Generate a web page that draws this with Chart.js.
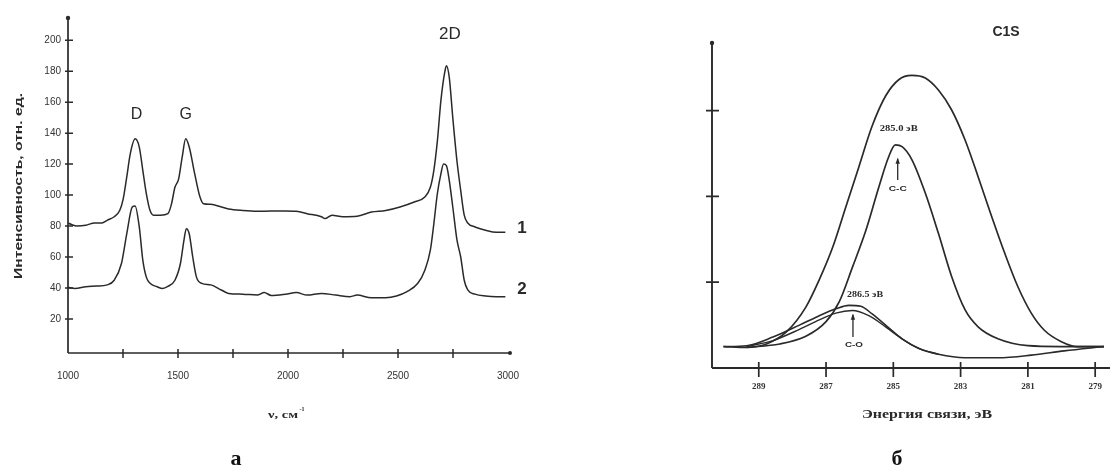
<!DOCTYPE html>
<html><head><meta charset="utf-8">
<script src="https://cdn.jsdelivr.net/npm/chart.js@4.4.1/dist/chart.umd.min.js"></script>
<style>
html,body{margin:0;padding:0;background:#fff;}
#wrap{position:relative;width:1115px;height:473px;overflow:hidden;background:#fff;}
#ca{position:absolute;left:0;top:0;}
#cb{position:absolute;left:560px;top:0;}
</style></head><body>
<div id="wrap">
<canvas id="ca" width="560" height="473"></canvas>
<canvas id="cb" width="555" height="473"></canvas>
</div>
<script>
// ---------- Panel a: Raman spectra ----------
const ramanX1 = [1000,1016,1040,1081,1121,1154,1178,1210,1235,1251,1267,1283,1305,1324,1340,1356,1373,1389,1421,1454,1470,1486,1503,1519,1535,1551,1576,1600,1616,1649,1697,1730,1795,1860,1924,1989,2038,2087,2152,2168,2200,2249,2314,2379,2444,2509,2574,2622,2647,2663,2679,2695,2712,2720,2733,2749,2768,2785,2801,2817,2850,2898,2947,2988];
const ramanY1 = [82,81,80,80.5,82,82,83.7,86,90,97.6,111.6,126.6,136.3,131,116,101,90,87,87,88,94,105,110.5,124.5,136.3,131,113.7,98.7,94.4,94,92.3,91,90,89.5,89.7,89.7,89.5,88,86,84.8,87,86,86.3,89,90,92.3,95.5,98.7,105,116,135,161,179,183.5,176,150,122,103,87,82,79.4,77.3,76,76];
const ramanX2 = [1000,1032,1081,1129,1178,1210,1243,1267,1292,1305,1324,1340,1356,1373,1405,1430,1454,1486,1511,1527,1538,1551,1567,1584,1608,1649,1697,1730,1795,1860,1892,1924,1989,2038,2087,2152,2217,2282,2314,2379,2444,2493,2541,2590,2622,2647,2663,2679,2695,2707,2720,2733,2749,2768,2785,2801,2817,2850,2898,2947,2988];
const ramanY2 = [40.4,39.7,40.8,41.2,42,45,55.8,75,92.3,93,79.4,58,47,43,40.8,39.7,41,45,55.8,70.8,78.3,75,60,47,43,42,38.7,36.5,36,35.4,37,35.2,36,37,35.4,36.5,35.4,34.4,35.4,33.7,33.7,34.8,37.6,43,51.5,64.4,81.6,101,113.7,120,119,109.5,92.3,71,60,45,38.7,36,34.8,34.4,34.4];
const ramanYTicks = [20,40,60,80,100,120,140,160,180,200];
const ramanXTicks = [1000,1250,1500,1750,2000,2250,2500,2750,3000];
const ramanXLabels = ['1000','','1500','','2000','','2500','','3000'];
const ramanPeakNames = ['D','G','2D'];
const ramanPeakX = [1312,1535,2736];
const ramanPeakY = [152,152,203.5];
const ramanCurveNames = ['1','2'];
const ramanCurveX = [3063,3063];
const ramanCurveY = [78.7,39.4];

// ---------- Panel б: XPS C1s ----------
const xpsEnvX = [290.05,289.36,288.77,288.18,287.6,287.2,286.8,286.41,286.02,285.63,285.23,284.84,284.45,284.05,283.66,283.27,282.87,282.48,282.08,281.69,281.3,280.9,280.51,280.02,279.53,278.74];
const xpsEnvY = [0.25,0.24,0.28,0.42,0.71,1.03,1.41,1.88,2.35,2.82,3.17,3.36,3.41,3.38,3.24,3.01,2.66,2.23,1.77,1.34,0.95,0.64,0.44,0.31,0.25,0.25];
const xpsCCX = [289.36,288.38,287.6,287.0,286.61,286.22,285.82,285.43,285.14,284.94,284.74,284.45,284.05,283.66,283.27,282.87,282.48,281.89,281.0,280.02,278.74];
const xpsCCY = [0.24,0.28,0.37,0.54,0.77,1.17,1.6,2.11,2.46,2.6,2.58,2.43,2.04,1.57,1.07,0.68,0.48,0.34,0.26,0.25,0.25];
const xpsCOX = [290.05,289.36,288.58,287.79,287.2,286.71,286.32,285.97,285.63,285.23,284.74,284.25,283.66,282.87,281.89,280.9,279.92,278.74];
const xpsCOY = [0.25,0.26,0.36,0.5,0.61,0.69,0.73,0.72,0.63,0.5,0.34,0.23,0.16,0.12,0.12,0.15,0.2,0.25];
const xpsCO2X = [289.36,288.58,287.79,287.2,286.71,286.22,285.73,285.23,284.74,284.25,283.66];
const xpsCO2Y = [0.25,0.32,0.45,0.56,0.64,0.67,0.61,0.48,0.34,0.23,0.16];
const xpsXTicks = [289,287,285,283,281,279];
const xpsYTicks = [1,2,3];

function pts(xs, ys){ return xs.map((x,i)=>({x:x, y:ys[i]})); }

const INK = '#2a2a2a';

function drawText(ctx, t){
  ctx.save();
  ctx.font = t.font; ctx.fillStyle = t.color || INK;
  ctx.textAlign = t.align || 'center'; ctx.textBaseline = t.base || 'middle';
  ctx.translate(t.x, t.y);
  if (t.rot) ctx.rotate(t.rot);
  if (t.w){ const m = ctx.measureText(t.text).width; ctx.scale(t.w/m, 1); }
  ctx.fillText(t.text, 0, 0);
  ctx.restore();
}

const deco = {
  id:'deco',
  afterDraw(chart, args, o){
    const ctx = chart.ctx, ca = chart.chartArea, xs = chart.scales.x, ys = chart.scales.y;
    ctx.save();
    ctx.strokeStyle = INK; ctx.fillStyle = INK; ctx.lineWidth = o.lw;
    const x0 = ca.left, y0 = ca.bottom;
    ctx.beginPath();
    ctx.moveTo(x0, y0); ctx.lineTo(x0, ca.top);
    ctx.moveTo(x0, y0); ctx.lineTo(ca.right + o.xExt, y0);
    ctx.stroke();
    ctx.beginPath(); ctx.arc(x0, ca.top + 1, 2.2, 0, Math.PI*2); ctx.fill();
    if (o.xArrow){ ctx.beginPath(); ctx.arc(ca.right + o.xExt, y0, 2, 0, Math.PI*2); ctx.fill(); }
    ctx.lineWidth = o.tickW;
    ctx.beginPath();
    xs.ticks.forEach(t=>{
      if (Math.abs(t.value - o.xSkipA) < 1e-6 || Math.abs(t.value - o.xSkipB) < 1e-6) return;
      const px = xs.getPixelForValue(t.value);
      ctx.moveTo(px, y0 - o.xTick[0]); ctx.lineTo(px, y0 + o.xTick[1]);
    });
    ys.ticks.forEach(t=>{
      const py = ys.getPixelForValue(t.value);
      ctx.moveTo(x0 - o.yTick[0], py); ctx.lineTo(x0 + o.yTick[1], py);
    });
    ctx.stroke();
    (o.labels || []).forEach(l=>{
      drawText(ctx, {text:l.text, x:xs.getPixelForValue(l.x), y:ys.getPixelForValue(l.y), font:l.font, w:l.w});
    });
    (o.arrows || []).forEach(a=>{
      const px = xs.getPixelForValue(a.x), p1 = ys.getPixelForValue(a.y1), p2 = ys.getPixelForValue(a.y2);
      ctx.lineWidth = 1.3;
      ctx.beginPath(); ctx.moveTo(px, p1); ctx.lineTo(px, p2); ctx.stroke();
      ctx.beginPath(); ctx.moveTo(px, p2 - 1); ctx.lineTo(px - 2.2, p2 + 5); ctx.lineTo(px + 2.2, p2 + 5); ctx.closePath(); ctx.fill();
    });
    (o.texts || []).forEach(t=>drawText(ctx, t));
    (o.after || (()=>{}))(ctx);
    ctx.restore();
  }
};

// ---------- chart a ----------
new Chart(document.getElementById('ca'), {
  type:'line',
  data:{ datasets:[
    {data:pts(ramanX1, ramanY1), borderColor:INK, borderWidth:1.5, pointRadius:0, cubicInterpolationMode:'monotone', fill:false},
    {data:pts(ramanX2, ramanY2), borderColor:INK, borderWidth:1.5, pointRadius:0, cubicInterpolationMode:'monotone', fill:false}
  ]},
  plugins:[deco],
  options:{
    responsive:false, animation:false, events:[],
    layout:{padding:{top:17, right:52, left:0, bottom:0}},
    plugins:{ legend:{display:false}, tooltip:{enabled:false},
      deco:{ lw:1.7, tickW:1.5, xExt:2, xArrow:true, xTick:[4,5], yTick:[3,5], xSkipA:1000, xSkipB:3000,
        labels:[
          ...ramanPeakNames.map((n,i)=>({text:n, x:ramanPeakX[i], y:ramanPeakY[i], font:(n==='2D'?'17px':'16px')+' "Liberation Sans", Arial, sans-serif'})),
          ...ramanCurveNames.map((n,i)=>({text:n, x:ramanCurveX[i], y:ramanCurveY[i], font:'bold 17px "Liberation Sans", Arial, sans-serif'}))
        ],
        texts:[
          {text:'Интенсивность, отн. ед.', x:19, y:186, rot:-Math.PI/2, w:186, font:'bold 11px "Liberation Sans", Arial, sans-serif'},
          {text:'а', x:236, y:465, base:'alphabetic', font:'bold 22px "Liberation Serif", "Times New Roman", serif', color:'#111'}
        ],
        after:(ctx)=>{
          drawText(ctx, {text:'ν, см', x:283, y:415, font:'bold 11px "Liberation Serif", serif', w:30});
          drawText(ctx, {text:'-1', x:302, y:409, font:'bold 6px "Liberation Serif", serif'});
        }
      }
    },
    scales:{
      x:{ type:'linear', min:1000, max:3000,
        afterBuildTicks:(s)=>{ s.ticks = ramanXTicks.map(v=>({value:v})); },
        afterFit:(s)=>{ s.height = 120; },
        grid:{display:false, drawTicks:false}, border:{display:false},
        ticks:{ padding:17, autoSkip:false, maxRotation:0, color:'#333', font:{family:'"Liberation Sans", Arial, sans-serif', size:10},
          callback:(v,i)=>ramanXLabels[i] }
      },
      y:{ type:'linear', min:-2, max:215,
        afterBuildTicks:(s)=>{ s.ticks = ramanYTicks.map(v=>({value:v})); },
        afterFit:(s)=>{ s.width = 68; },
        grid:{display:false, drawTicks:false}, border:{display:false},
        ticks:{ padding:7, color:'#333', font:{family:'"Liberation Sans", Arial, sans-serif', size:10} }
      }
    }
  }
});

// ---------- chart б ----------
new Chart(document.getElementById('cb'), {
  type:'line',
  data:{ datasets:[
    {data:pts(xpsEnvX, xpsEnvY), borderColor:INK, borderWidth:1.7, pointRadius:0, cubicInterpolationMode:'monotone', fill:false},
    {data:pts(xpsCCX, xpsCCY), borderColor:INK, borderWidth:1.7, pointRadius:0, cubicInterpolationMode:'monotone', fill:false},
    {data:pts(xpsCOX, xpsCOY), borderColor:INK, borderWidth:1.6, pointRadius:0, cubicInterpolationMode:'monotone', fill:false},
    {data:pts(xpsCO2X, xpsCO2Y), borderColor:INK, borderWidth:1.4, pointRadius:0, cubicInterpolationMode:'monotone', fill:false}
  ]},
  plugins:[deco],
  options:{
    responsive:false, animation:false, events:[],
    layout:{padding:{top:42, right:2, left:0, bottom:0}},
    plugins:{ legend:{display:false}, tooltip:{enabled:false},
      deco:{ lw:1.9, tickW:1.7, xExt:0, xArrow:false, xTick:[6,9], yTick:[6,7], xSkipA:-1, xSkipB:-1,
        labels:[
          {text:'C1S', x:281.65, y:3.92, font:'bold 14px "Liberation Sans", Arial, sans-serif'},
          {text:'285.0 эВ', x:284.84, y:2.79, w:38, font:'bold 8px "Liberation Serif", serif'},
          {text:'C-C', x:284.87, y:2.09, w:18, font:'bold 8px "Liberation Sans", Arial, sans-serif'},
          {text:'286.5 эВ', x:285.84, y:0.85, w:36, font:'bold 8px "Liberation Serif", serif'},
          {text:'C-O', x:286.17, y:0.27, w:18, font:'bold 8px "Liberation Sans", Arial, sans-serif'}
        ],
        arrows:[
          {x:284.87, y1:2.19, y2:2.44},
          {x:286.2, y1:0.36, y2:0.62}
        ],
        texts:[
          {text:'Энергия связи, эВ', x:367, y:415, w:130, font:'bold 12px "Liberation Serif", "Times New Roman", serif'},
          {text:'б', x:337, y:465, base:'alphabetic', font:'bold 22px "Liberation Serif", "Times New Roman", serif', color:'#111'}
        ]
      }
    },
    scales:{
      x:{ type:'linear', reverse:true, min:278.56, max:290.39,
        afterBuildTicks:(s)=>{ s.ticks = xpsXTicks.map(v=>({value:v})); },
        afterFit:(s)=>{ s.height = 105; },
        grid:{display:false, drawTicks:false}, border:{display:false},
        ticks:{ padding:13, autoSkip:false, maxRotation:0, color:'#333', font:{family:'"Liberation Serif", serif', size:9, weight:'bold'} }
      },
      y:{ type:'linear', min:0, max:3.8,
        afterBuildTicks:(s)=>{ s.ticks = xpsYTicks.map(v=>({value:v})); },
        afterFit:(s)=>{ s.width = 152; },
        grid:{display:false, drawTicks:false}, border:{display:false},
        ticks:{ display:false }
      }
    }
  }
});
</script>
</body></html>
